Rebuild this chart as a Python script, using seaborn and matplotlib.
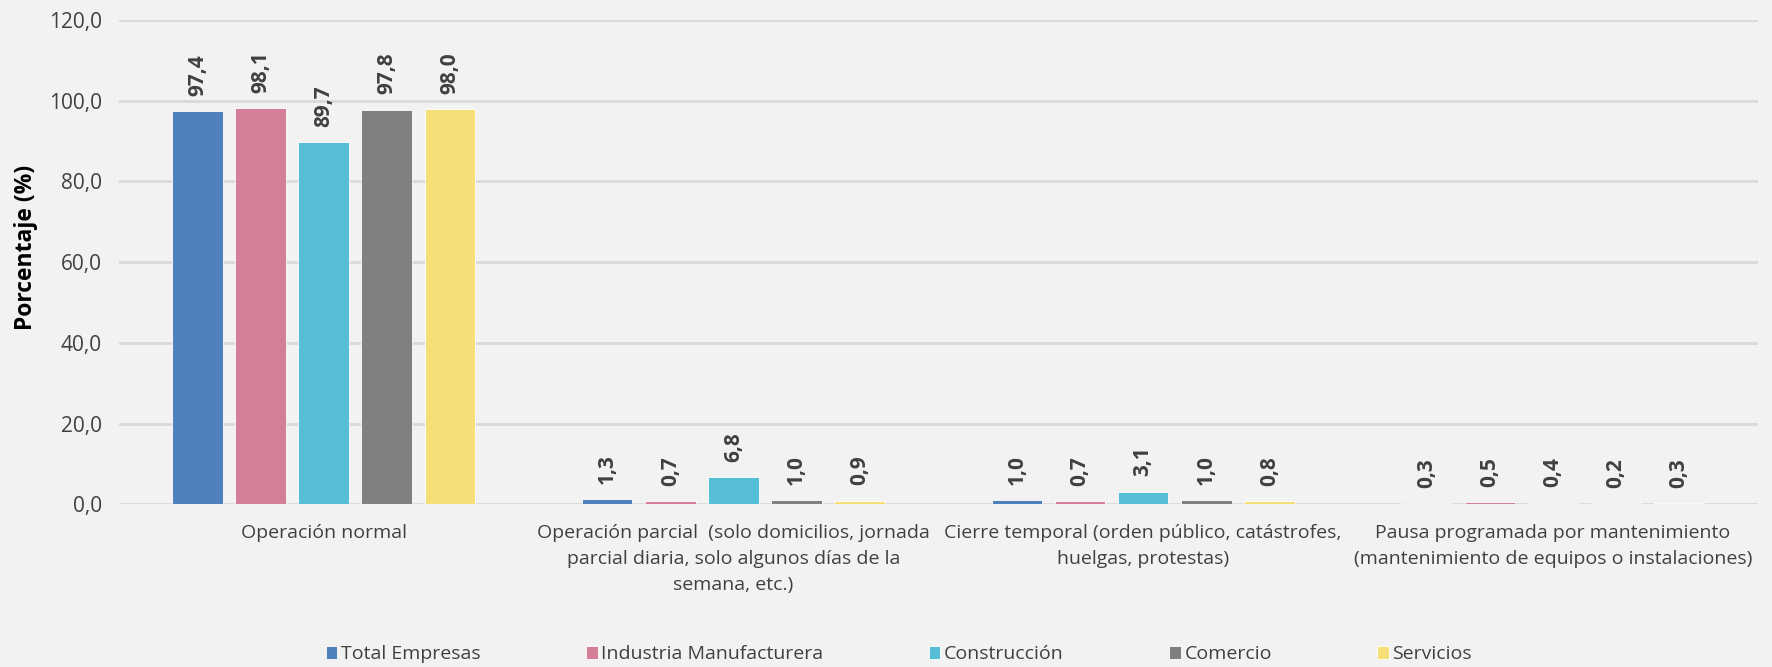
import pandas as pd
import matplotlib
matplotlib.use("Agg")
import matplotlib.pyplot as plt
import seaborn as sb

categorias = [
    "Operación normal",
    "Operación parcial  (solo domicilios, jornada\nparcial diaria, solo algunos días de la\nsemana, etc.)",
    "Cierre temporal (orden público, catástrofes,\nhuelgas, protestas)",
    "Pausa programada por mantenimiento\n(mantenimiento de equipos o instalaciones)",
]
sectores = ["Total Empresas", "Industria Manufacturera", "Construcción", "Comercio", "Servicios"]
total_empresas = [97.4, 1.3, 1.0, 0.3]
industria = [98.1, 0.7, 0.7, 0.5]
construccion = [89.7, 6.8, 3.1, 0.4]
comercio = [97.8, 1.0, 1.0, 0.2]
servicios = [98.0, 0.9, 0.8, 0.3]
colores = ["#4F81BD", "#D47F98", "#56BED6", "#808080", "#F6DF78"]

valores = [total_empresas, industria, construccion, comercio, servicios]
filas = []
for sector, serie in zip(sectores, valores):
    for cat, v in zip(categorias, serie):
        filas.append({"categoria": cat, "sector": sector, "valor": v})
df = pd.DataFrame(filas)

sb.set_style("white")
plt.rcParams['font.family'] = ['Open Sans', 'DejaVu Sans']
texto = "#404040"

fig = plt.figure(figsize=(17.72, 6.67), dpi=100, facecolor="#F2F2F2")
ax = fig.add_axes([0.067, 0.244, 0.925, 0.726])
ax.set_facecolor("#F2F2F2")

sb.barplot(data=df, x="categoria", y="valor", hue="sector", order=categorias,
           hue_order=sectores, palette=colores, saturation=1, width=0.77, gap=0.2,
           edgecolor="white", linewidth=0.6, ax=ax, legend=True)

for cont in ax.containers:
    etiquetas = [f"{b.get_height():.1f}".replace(".", ",") for b in cont]
    ax.bar_label(cont, labels=etiquetas, rotation=90, padding=11,
                 fontsize=15, fontweight="bold", color=texto)

ax.set_ylim(0, 120)
ax.set_yticks(range(0, 121, 20))
ax.set_yticklabels([f"{v},0" for v in range(0, 121, 20)], fontsize=15, color=texto)
ax.set_xticks(range(len(categorias)))
ax.set_xticklabels(categorias, fontsize=14, color=texto, linespacing=1.6)
ax.tick_params(axis="y", length=0, pad=12)
ax.tick_params(axis="x", length=0, pad=14)
ax.set_xlim(-0.5, len(categorias) - 0.5)
ax.yaxis.grid(True, color="#D9D9D9", linewidth=2)
ax.set_axisbelow(True)
for s in ax.spines.values():
    s.set_visible(False)
ax.set_xlabel("")
ax.set_ylabel("Porcentaje (%)", fontsize=16.5, fontweight="bold", color="black")
ax.yaxis.set_label_coords(-0.049, 0.53)

ax.legend(loc="center", bbox_to_anchor=(0.476, -0.31), ncol=5, frameon=False,
          fontsize=14, labelcolor=texto, handlelength=0.6, handleheight=0.7,
          handletextpad=0.2, columnspacing=5.4)

fig.savefig("out.png", dpi=100, facecolor=fig.get_facecolor())
